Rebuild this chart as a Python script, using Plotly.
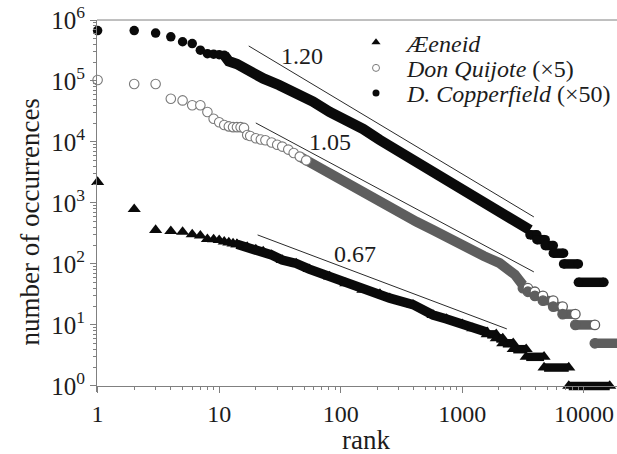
import math
import plotly.graph_objects as go

FONT = "Liberation Serif, Times New Roman, Times, serif"
INK = "#1c1c1c"
AXIS = "#808080"

# ---------------- data ----------------
# Aeneid, raw counts
aen_top_rank = [1, 2, 3, 4, 5, 6, 7, 8, 9, 10, 11, 12, 13, 14]
aen_top_count = [2200, 790, 360, 345, 335, 305, 290, 255, 252, 245, 232, 224, 216, 210]
aen_band_rank = [14, 17, 20, 23, 27, 33, 43, 55, 81, 110, 152, 210, 253, 393, 574, 741, 1000, 1220, 1600]
aen_band_count = [210, 190, 172, 160, 140, 116, 102, 82, 62, 48, 37.5, 32, 27.5, 21.5, 14.5, 12.5, 10.3, 8.8, 7.6]
aen_step_count = [7, 6, 5, 4, 3, 2, 1]
aen_step_first = [1601, 1901, 2151, 2621, 3351, 4701, 7501]
aen_step_last = [1900, 2150, 2620, 3350, 4700, 7500, 16300]

# Don Quijote, raw counts (plotted x5)
quij_scale = 5
quij_top_rank = [1, 2, 3, 4, 5, 6, 7, 8, 9, 10, 11, 12, 13, 14, 15, 16,
                 17, 18, 20, 22, 24, 27, 30, 33, 37, 41, 46, 52]
quij_top_count = [20800, 17800, 17800, 10200, 9600, 8000, 8000, 6200, 4800, 4200, 3800, 3600, 3500, 3500, 3500, 3400,
                  2600, 2500, 2300, 2200, 2140, 1960, 1800, 1680, 1500, 1320, 1150, 1000]
quij_band_rank = [46, 52, 58, 65, 81, 110, 152, 210, 306, 420, 574, 800, 1090, 1500, 2030, 2700, 3150]
quij_band_count = [1150, 1000, 880, 760, 600, 420, 292, 208, 134, 98, 72, 50, 38.4, 27, 20.6, 13.4, 9]
quij_step_count = [8, 7, 6, 5, 4, 3, 2, 1]
quij_step_first = [3151, 3461, 3951, 4601, 5591, 6681, 8501, 12301]
quij_step_last = [3460, 3950, 4600, 5590, 6680, 8500, 12300, 23000]

# David Copperfield, raw counts (plotted x50)
cop_scale = 50
cop_top_rank = [1, 2, 3, 4, 5, 6, 7, 8, 9, 10, 11]
cop_top_count = [13400, 13400, 12200, 10600, 8800, 8200, 6400, 5600, 5500, 5400, 5300]
cop_band_rank = [11, 12, 14, 18, 23, 31, 43, 59, 81, 111, 153, 209, 306, 450, 741, 1000, 1400, 2000, 2620, 3300, 3600]
cop_band_count = [5300, 4200, 3800, 2850, 2200, 1720, 1300, 920, 620, 460, 326, 216, 136, 86, 45.8, 33, 22.4, 14.5, 10.5, 7.9, 7.2]
cop_step_count = [6, 5, 4, 3, 2, 1]
cop_step_first = [3601, 4101, 4801, 5601, 6801, 9001]
cop_step_last = [4100, 4800, 5600, 6800, 9000, 14600]

# power-law guide lines
fit_label = ["1.20", "1.05", "0.67"]
fit_rank_start = [17.5, 20, 20.7]
fit_rank_end = [3875, 3875, 2323]
fit_count_start = [375000, 20500, 299]
fit_count_end = [590, 74, 8.6]
fit_label_rank = [47.8, 81, 131.6]
fit_label_count = [257000, 10000, 146]

legend_names = ["<i>Æeneid</i>", "<i>Don Quijote</i> (×5)", "<i>D. Copperfield</i> (×50)"]

x_tick_vals = [1, 10, 100, 1000, 10000]
x_tick_text = ["1", "10", "100", "1000", "10000"]
y_tick_vals = [1, 10, 100, 1000, 10000, 100000, 1000000]
y_tick_text = ["10<sup>0</sup>", "10<sup>1</sup>", "10<sup>2</sup>", "10<sup>3</sup>",
               "10<sup>4</sup>", "10<sup>5</sup>", "10<sup>6</sup>"]


def scaled(vals, k):
    return [v * k for v in vals]


def steps(first, last, count, k):
    xs, ys = [], []
    for a, b, c in zip(first, last, count):
        xs += [a, b, None]
        ys += [c * k, c * k, None]
    return xs, ys


fig = go.Figure()

# ---- D. Copperfield (black filled circles) ----
BLK = "#0a0a0a"
fig.add_trace(go.Scatter(x=cop_band_rank, y=scaled(cop_band_count, cop_scale), mode="lines",
                         line=dict(color=BLK, width=10.5), showlegend=False, hoverinfo="skip"))
fig.add_trace(go.Scatter(x=cop_top_rank, y=scaled(cop_top_count, cop_scale), mode="markers",
                         marker=dict(symbol="circle", size=9.5, color=BLK), cliponaxis=False,
                         showlegend=False))
sx, sy = steps(cop_step_first, cop_step_last, cop_step_count, cop_scale)
fig.add_trace(go.Scatter(x=sx, y=sy, mode="lines+markers", line=dict(color=BLK, width=9.5),
                         marker=dict(symbol="circle", size=9.5, color=BLK), cliponaxis=False,
                         showlegend=False))

# ---- Don Quijote (open circles) ----
QG = "#5e5e5e"
fig.add_trace(go.Scatter(x=quij_band_rank, y=scaled(quij_band_count, quij_scale), mode="lines",
                         line=dict(color=QG, width=10), showlegend=False, hoverinfo="skip"))
fig.add_trace(go.Scatter(x=quij_top_rank, y=scaled(quij_top_count, quij_scale), mode="markers",
                         marker=dict(symbol="circle", size=9.5, color="white",
                                     line=dict(color="#7a7a7a", width=1.1)),
                         cliponaxis=False, showlegend=False))
sx, sy = steps(quij_step_first, quij_step_last, quij_step_count, quij_scale)
qcol = []
for _ in quij_step_count:
    qcol += [QG, "white", "white"]
fig.add_trace(go.Scatter(x=sx, y=sy, mode="lines+markers", line=dict(color=QG, width=9.5),
                         marker=dict(symbol="circle", size=9.5, color=qcol, line=dict(color=QG, width=1.3)),
                         cliponaxis=False, showlegend=False))

# ---- Aeneid (black triangles) ----
fig.add_trace(go.Scatter(x=aen_band_rank, y=aen_band_count, mode="lines+markers",
                         line=dict(color=BLK, width=9.5),
                         marker=dict(symbol="triangle-up", size=11.5, color=BLK),
                         showlegend=False, hoverinfo="skip"))
fig.add_trace(go.Scatter(x=aen_top_rank, y=aen_top_count, mode="markers",
                         marker=dict(symbol="triangle-up", size=11.5, color=BLK), cliponaxis=False,
                         showlegend=False))
sx, sy = steps(aen_step_first, aen_step_last, aen_step_count, 1)
fig.add_trace(go.Scatter(x=sx, y=sy, mode="lines+markers", line=dict(color=BLK, width=8.5),
                         marker=dict(symbol="triangle-up", size=11.5, color=BLK), cliponaxis=False,
                         showlegend=False))

# ---- guide lines ----
gx, gy = [], []
for a, b, c, d in zip(fit_rank_start, fit_rank_end, fit_count_start, fit_count_end):
    gx += [a, b, None]
    gy += [c, d, None]
fig.add_trace(go.Scatter(x=gx, y=gy, mode="lines", line=dict(color="#2a2a2a", width=1),
                         showlegend=False, hoverinfo="skip"))

# ---- legend entries (three single-item legends) ----
leg_markers = [
    dict(symbol="triangle-up", size=8, color=BLK),
    dict(symbol="circle", size=7, color="white", line=dict(color="#7a7a7a", width=1)),
    dict(symbol="circle", size=7, color=BLK),
]
leg_ids = ["legend", "legend2", "legend3"]
for name, mk, lid in zip(legend_names, leg_markers, leg_ids):
    fig.add_trace(go.Scatter(x=[None], y=[None], mode="markers", marker=mk, name=name,
                             legend=lid, showlegend=True))

annotations = []
for lab, xr, yc in zip(fit_label, fit_label_rank, fit_label_count):
    annotations.append(dict(x=math.log10(xr), y=math.log10(yc), xref="x", yref="y",
                            text=lab, showarrow=False, xanchor="center", yanchor="middle",
                            font=dict(family=FONT, size=24, color=INK)))
annotations.append(dict(x=0.517, y=-0.129, xref="paper", yref="paper", text="rank",
                        xanchor="center", yanchor="middle",
                        showarrow=False, font=dict(family=FONT, size=27, color=INK)))
annotations.append(dict(x=0, y=0.457, xref="paper", yref="paper", xshift=-67.5,
                        xanchor="center", yanchor="middle",
                        text="number of occurrences", textangle=-90, showarrow=False,
                        font=dict(family=FONT, size=27, color=INK)))

x_minor = [m * 10 ** k for k in range(0, 5) for m in range(2, 10) if m * 10 ** k < 19000]
y_minor = [m * 10 ** k for k in range(0, 6) for m in range(2, 10)]

leg_common = dict(xanchor="left", yanchor="middle", bgcolor="rgba(0,0,0,0)", borderwidth=0,
                  itemwidth=52, font=dict(family=FONT, size=24, color=INK))
leg_x = (345 - 97) / 520

fig.update_layout(
    width=617, height=454,
    margin=dict(l=97, r=0, t=20, b=62),
    paper_bgcolor="white", plot_bgcolor="white",
    font=dict(family=FONT, color=INK, size=24),
    showlegend=True,
    legend=dict(x=leg_x, y=(392 - 42.7) / 372, **leg_common),
    legend2=dict(x=leg_x, y=(392 - 68.3) / 372, **leg_common),
    legend3=dict(x=leg_x, y=(392 - 93.3) / 372, **leg_common),
    xaxis=dict(type="log", range=[-0.005, 4.272], anchor="free", position=0.1 / 6.1,
               showline=True, linecolor=AXIS, linewidth=1, showgrid=False, zeroline=False,
               ticks="outside", ticklen=6, tickcolor=AXIS, tickwidth=1,
               tickmode="array", tickvals=x_tick_vals, ticktext=x_tick_text,
               tickfont=dict(family=FONT, size=24, color=INK),
               minor=dict(ticks="outside", ticklen=3, tickcolor=AXIS, tickvals=x_minor, showgrid=False)),
    yaxis=dict(type="log", range=[-0.1, 6], showline=True, linecolor=AXIS, linewidth=1,
               showgrid=False, zeroline=False,
               ticks="outside", ticklen=6, tickcolor=AXIS, tickwidth=1,
               tickmode="array", tickvals=y_tick_vals, ticktext=y_tick_text,
               tickfont=dict(family=FONT, size=25, color=INK),
               minor=dict(ticks="outside", ticklen=3, tickcolor=AXIS, tickvals=y_minor, showgrid=False)),
    shapes=[dict(type="line", xref="paper", yref="paper", x0=0, x1=1, y0=1, y1=1,
                 line=dict(color=AXIS, width=1))],
    annotations=annotations,
)

fig.write_html("out.html")
